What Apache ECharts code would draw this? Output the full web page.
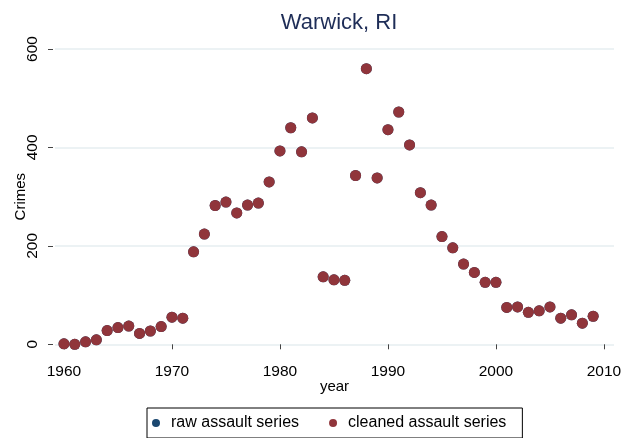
<!DOCTYPE html>
<html>
<head>
<meta charset="utf-8">
<script src="https://cdn.jsdelivr.net/npm/echarts@6/dist/echarts.min.js"></script>
<style>html,body{margin:0;padding:0;background:#fff;}#c{width:625px;height:438px;}</style>
</head>
<body>
<div id="c"></div>
<script>
var years = [1960,1961,1962,1963,1964,1965,1966,1967,1968,1969,1970,1971,1972,1973,1974,1975,1976,1977,1978,1979,1980,1981,1982,1983,1984,1985,1986,1987,1988,1989,1990,1991,1992,1993,1994,1995,1996,1997,1998,1999,2000,2001,2002,2003,2004,2005,2006,2007,2008,2009];
var rawAssault = [1,0,5,9,28,34,37,22,27,36,55,53,188,224,282,289,267,283,287,330,393,440,391,460,137,131,130,343,560,338,436,472,405,308,283,219,196,163,146,126,126,75,76,65,68,76,53,60,43,57];
var cleanedAssault = [1,0,5,9,28,34,37,22,27,36,55,53,188,224,282,289,267,283,287,330,393,440,391,460,137,131,130,343,560,338,436,472,405,308,283,219,196,163,146,126,126,75,76,65,68,76,53,60,43,57];
var xTicks = [1960,1970,1980,1990,2000,2010];
var yTicks = [0,200,400,600];

function pairs(xs, ys){ return xs.map(function(x,i){ return [x, ys[i]]; }); }

var font = 'Liberation Sans, Arial, Helvetica, sans-serif';
var chart = echarts.init(document.getElementById('c'), null, {renderer:'canvas'});
chart.setOption({
  animation: false,
  backgroundColor: '#ffffff',
  title: {
    text: 'Warwick, RI',
    left: 334, top: 7, textAlign: 'center',
    textStyle: {color: '#1e2d57', fontSize: 22, fontWeight: 'normal', fontFamily: font}
  },
  grid: {left: 55, right: 11, top: 49, bottom: 93.7, containLabel: false},
  xAxis: {
    type: 'value', min: 1959.17, max: 2010.93, offset: 11,
    name: 'year', nameLocation: 'middle', nameGap: 24, nameMoveOverlap: false,
    nameTextStyle: {color: '#000', fontSize: 15, fontFamily: font},
    axisLine: {show: false},
    axisTick: {show: true, customValues: xTicks, length: 5, lineStyle: {color: '#444', width: 1}},
    axisLabel: {customValues: xTicks, margin: 8, color: '#000', fontSize: 15.5, fontFamily: font,
      formatter: function(v){ return String(v); }},
    splitLine: {show: false}
  },
  yAxis: {
    type: 'value', min: 0, max: 600, interval: 200, offset: 2,
    name: 'Crimes', nameLocation: 'middle', nameGap: 25, nameRotate: 90, nameMoveOverlap: false,
    nameTextStyle: {color: '#000', fontSize: 15, fontFamily: font},
    axisLine: {show: false},
    axisTick: {show: true, length: 5, lineStyle: {color: '#444', width: 1}},
    axisLabel: {rotate: 90, margin: 12, color: '#000', fontSize: 15.5, fontFamily: font,
      formatter: function(v){ return String(v); }},
    splitLine: {show: true, lineStyle: {color: '#e6eef0', width: 1.5}}
  },
  legend: {
    left: 147, top: 408,
    padding: [7, 16, 7, 5],
    itemGap: 30, itemWidth: 8, itemHeight: 8,
    borderColor: '#000', borderWidth: 1,
    textStyle: {color: '#000', fontSize: 16, fontFamily: font, padding: [0,0,0,6]},
    data: [{name: 'raw assault series', icon: 'circle'}, {name: 'cleaned assault series', icon: 'circle'}]
  },
  series: [
    {name: 'raw assault series', type: 'scatter', symbolSize: 11, clip: false,
     itemStyle: {color: '#1a476f', opacity: 1}, data: pairs(years, rawAssault)},
    {name: 'cleaned assault series', type: 'scatter', symbolSize: 11, clip: false,
     itemStyle: {color: '#90353b', opacity: 1}, data: pairs(years, cleanedAssault)}
  ]
});
</script>
</body>
</html>
